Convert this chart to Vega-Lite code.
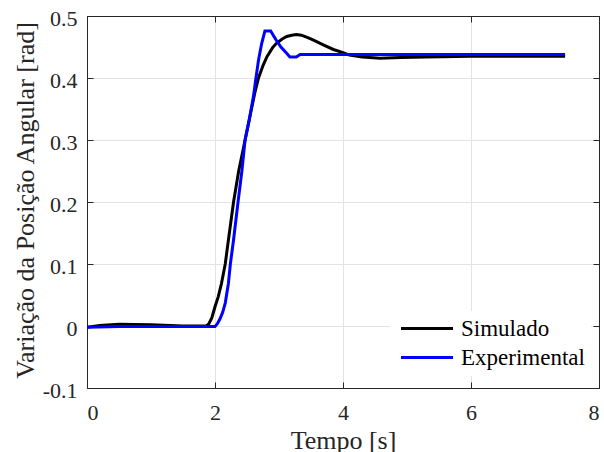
{
  "$schema": "https://vega.github.io/schema/vega-lite/v6.json",
  "autosize": "none",
  "width": 512,
  "height": 372,
  "padding": {"left": 87, "top": 16, "right": 5, "bottom": 64},
  "background": "white",
  "config": {
    "font": "Liberation Serif",
    "view": {"stroke": "#262626", "strokeWidth": 1},
    "axis": {
      "labelFont": "Liberation Serif",
      "titleFont": "Liberation Serif",
      "labelFontSize": 22,
      "titleFontSize": 26,
      "labelColor": "#262626",
      "titleColor": "#262626",
      "titleFontWeight": "normal",
      "domainColor": "#262626",
      "tickColor": "#262626",
      "tickSize": -6,
      "gridColor": "#e3e3e3",
      "gridWidth": 1
    }
  },
  "data": {
    "values": [
      {"t": 0, "v": -0.002, "s": "Simulado"},
      {"t": 0.2, "v": 0.001, "s": "Simulado"},
      {"t": 0.5, "v": 0.003, "s": "Simulado"},
      {"t": 1.0, "v": 0.002, "s": "Simulado"},
      {"t": 1.5, "v": 0.0, "s": "Simulado"},
      {"t": 1.86, "v": 0.0, "s": "Simulado"},
      {"t": 1.9, "v": 0.003, "s": "Simulado"},
      {"t": 1.95, "v": 0.013, "s": "Simulado"},
      {"t": 2.0, "v": 0.031, "s": "Simulado"},
      {"t": 2.05, "v": 0.047, "s": "Simulado"},
      {"t": 2.1, "v": 0.068, "s": "Simulado"},
      {"t": 2.16, "v": 0.1, "s": "Simulado"},
      {"t": 2.21, "v": 0.139, "s": "Simulado"},
      {"t": 2.29, "v": 0.2, "s": "Simulado"},
      {"t": 2.37, "v": 0.25, "s": "Simulado"},
      {"t": 2.47, "v": 0.3, "s": "Simulado"},
      {"t": 2.55, "v": 0.34, "s": "Simulado"},
      {"t": 2.62, "v": 0.375, "s": "Simulado"},
      {"t": 2.68, "v": 0.4, "s": "Simulado"},
      {"t": 2.75, "v": 0.42, "s": "Simulado"},
      {"t": 2.81, "v": 0.434, "s": "Simulado"},
      {"t": 2.9, "v": 0.449, "s": "Simulado"},
      {"t": 2.96, "v": 0.456, "s": "Simulado"},
      {"t": 3.05, "v": 0.463, "s": "Simulado"},
      {"t": 3.12, "v": 0.467, "s": "Simulado"},
      {"t": 3.2, "v": 0.469, "s": "Simulado"},
      {"t": 3.27, "v": 0.47, "s": "Simulado"},
      {"t": 3.35, "v": 0.469, "s": "Simulado"},
      {"t": 3.45, "v": 0.465, "s": "Simulado"},
      {"t": 3.54, "v": 0.461, "s": "Simulado"},
      {"t": 3.7, "v": 0.453, "s": "Simulado"},
      {"t": 3.85, "v": 0.446, "s": "Simulado"},
      {"t": 4.0, "v": 0.441, "s": "Simulado"},
      {"t": 4.1, "v": 0.437, "s": "Simulado"},
      {"t": 4.3, "v": 0.434, "s": "Simulado"},
      {"t": 4.58, "v": 0.432, "s": "Simulado"},
      {"t": 4.9, "v": 0.433, "s": "Simulado"},
      {"t": 5.3, "v": 0.434, "s": "Simulado"},
      {"t": 6.0, "v": 0.435, "s": "Simulado"},
      {"t": 7.0, "v": 0.435, "s": "Simulado"},
      {"t": 7.47, "v": 0.435, "s": "Simulado"},
      {"t": 0, "v": -0.002, "s": "Experimental"},
      {"t": 0.5, "v": -0.001, "s": "Experimental"},
      {"t": 1.0, "v": -0.001, "s": "Experimental"},
      {"t": 1.5, "v": -0.001, "s": "Experimental"},
      {"t": 2.0, "v": -0.001, "s": "Experimental"},
      {"t": 2.04, "v": 0.004, "s": "Experimental"},
      {"t": 2.08, "v": 0.012, "s": "Experimental"},
      {"t": 2.12, "v": 0.022, "s": "Experimental"},
      {"t": 2.16, "v": 0.037, "s": "Experimental"},
      {"t": 2.21, "v": 0.069, "s": "Experimental"},
      {"t": 2.24, "v": 0.1, "s": "Experimental"},
      {"t": 2.29, "v": 0.139, "s": "Experimental"},
      {"t": 2.36, "v": 0.2, "s": "Experimental"},
      {"t": 2.42, "v": 0.25, "s": "Experimental"},
      {"t": 2.47, "v": 0.3, "s": "Experimental"},
      {"t": 2.53, "v": 0.33, "s": "Experimental"},
      {"t": 2.6, "v": 0.37, "s": "Experimental"},
      {"t": 2.64, "v": 0.4, "s": "Experimental"},
      {"t": 2.68, "v": 0.429, "s": "Experimental"},
      {"t": 2.73, "v": 0.456, "s": "Experimental"},
      {"t": 2.78, "v": 0.476, "s": "Experimental"},
      {"t": 2.87, "v": 0.476, "s": "Experimental"},
      {"t": 2.95, "v": 0.462, "s": "Experimental"},
      {"t": 3.03, "v": 0.45, "s": "Experimental"},
      {"t": 3.12, "v": 0.44, "s": "Experimental"},
      {"t": 3.17, "v": 0.434, "s": "Experimental"},
      {"t": 3.27, "v": 0.434, "s": "Experimental"},
      {"t": 3.33, "v": 0.438, "s": "Experimental"},
      {"t": 4.0, "v": 0.438, "s": "Experimental"},
      {"t": 7.47, "v": 0.438, "s": "Experimental"}
    ]
  },
  "layer": [
    {
      "transform": [{"filter": "datum.s === 'Simulado'"}],
      "mark": {"type": "line", "strokeWidth": 3, "clip": true},
      "encoding": {
        "x": {
          "field": "t", "type": "quantitative",
          "scale": {"domain": [0, 8], "nice": false, "zero": false},
          "axis": {
            "orient": "bottom", "values": [0, 2, 4, 6, 8],
            "title": "Tempo [s]", "labelPadding": 20,
            "titleX": 256, "titleY": 60, "titleBaseline": "alphabetic", "titleAlign": "center"
          }
        },
        "y": {
          "field": "v", "type": "quantitative",
          "scale": {"domain": [-0.1, 0.5], "nice": false, "zero": false},
          "axis": {
            "orient": "left",
            "values": [-0.1, 0, 0.1, 0.2, 0.3, 0.4, 0.5],
            "labelExpr": "datum.value === 0 ? '0' : (datum.value < 0 ? '-' + format(-datum.value, '.1f') : format(datum.value, '.1f'))",
            "title": "Variação da Posição Angular [rad]",
            "labelPadding": 16,
            "labelOffset": 2,
            "titleX": -54, "titleY": 184, "titleAngle": -90, "titleBaseline": "alphabetic", "titleAlign": "center"
          }
        },
        "color": {
          "field": "s", "type": "nominal",
          "scale": {"domain": ["Simulado", "Experimental"], "range": ["#000000", "#0000ff"]},
          "legend": {
            "title": null,
            "orient": "none",
            "legendX": 303,
            "legendY": 295,
            "fillColor": "white",
            "padding": 6,
            "symbolType": "M-1,0L7,0",
            "symbolSize": 169,
            "symbolStrokeWidth": 3,
            "labelFont": "Liberation Serif",
            "labelFontSize": 23,
            "labelColor": "#000000",
            "labelOffset": 42,
            "rowPadding": 5,
            "labelLimit": 300
          }
        }
      }
    },
    {
      "transform": [{"filter": "datum.s === 'Experimental'"}],
      "mark": {"type": "line", "strokeWidth": 3, "clip": true},
      "encoding": {
        "x": {
          "field": "t", "type": "quantitative",
          "axis": {"orient": "top", "values": [0, 2, 4, 6, 8], "labels": false, "title": null, "grid": false}
        },
        "y": {
          "field": "v", "type": "quantitative",
          "axis": {"orient": "right", "values": [-0.1, 0, 0.1, 0.2, 0.3, 0.4, 0.5], "labels": false, "title": null, "grid": false}
        },
        "color": {"field": "s", "type": "nominal"}
      }
    }
  ],
  "resolve": {"axis": {"x": "independent", "y": "independent"}}
}
